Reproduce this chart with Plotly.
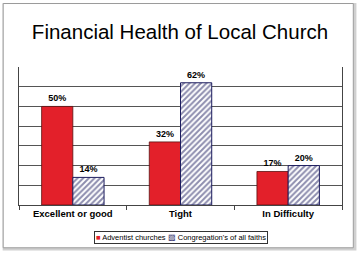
import plotly.graph_objects as go

categories = ["Excellent or good", "Tight", "In Difficulty"]
adventist = [50, 32, 17]
all_faiths = [14, 62, 20]
series_names = ["Adventist churches", "Congregation's of all faiths"]
title_text = "Financial Health of Local Church"

RED = "#E3202A"
NAVY = "#1c1c5e"
FONT = "Liberation Sans, Arial"

fig = go.Figure()
fig.add_trace(go.Bar(
    x=categories, y=adventist, name=series_names[0],
    marker=dict(color=RED, line=dict(color="#5a1010", width=0.8)),
    texttemplate="<b>%{y}%</b>", textposition="outside",
    textfont=dict(size=9, color="black", family=FONT),
    cliponaxis=False,
))
fig.add_trace(go.Bar(
    x=categories, y=all_faiths, name=series_names[1],
    marker=dict(color="white", line=dict(color=NAVY, width=1),
                pattern=dict(shape="/", fgcolor=NAVY, bgcolor="white",
                             size=4, solidity=0.5)),
    texttemplate="<b>%{y}%</b>", textposition="outside",
    textfont=dict(size=9, color="black", family=FONT),
    cliponaxis=False,
))

legend_text = (f"<span style='color:{RED}'>■</span> {series_names[0]} "
               f"<span style='color:{NAVY}'>▨</span> {series_names[1]}")

fig.update_layout(
    width=360, height=254,
    margin=dict(l=19, r=18, t=67, b=49),
    paper_bgcolor="white", plot_bgcolor="white",
    barmode="group", bargap=0.42, bargroupgap=0,
    font=dict(family=FONT, color="black"),
    title=dict(text=title_text, x=0.5, xanchor="center", y=0.875, yanchor="middle",
               font=dict(size=20.5, color="black", family=FONT)),
    showlegend=False,
    annotations=[dict(text=legend_text, xref="paper", yref="paper", x=0.5, y=-0.235,
                      xanchor="center", yanchor="middle", showarrow=False,
                      font=dict(size=7.5, color="black", family=FONT),
                      bordercolor="#333", borderwidth=1, borderpad=1, bgcolor="white")],
    shapes=[
        dict(type="rect", xref="paper", yref="paper", x0=-0.046, x1=1.040, y0=-0.318, y1=1.452,
             line=dict(color="#d0d0d0", width=3), layer="below"),
        dict(type="rect", xref="paper", yref="paper", x0=-0.049, x1=1.035, y0=-0.31, y1=1.46,
             line=dict(color="#9a9a9a", width=1), fillcolor="white", layer="below"),
    ],
)
fig.update_xaxes(
    showline=True, linecolor="#444", linewidth=1,
    ticks="outside", tickson="boundaries", ticklen=4, tickcolor="#444",
    tickfont=dict(size=9.5, color="black", family=FONT),
    tickprefix="<b>", ticksuffix="</b>",
)
fig.update_yaxes(
    range=[0, 70], dtick=10, showticklabels=False,
    showgrid=True, gridcolor="#555", gridwidth=1,
    showline=True, linecolor="#444", linewidth=1, mirror=True,
    zeroline=False, ticks="",
)
fig.write_html("out.html")
